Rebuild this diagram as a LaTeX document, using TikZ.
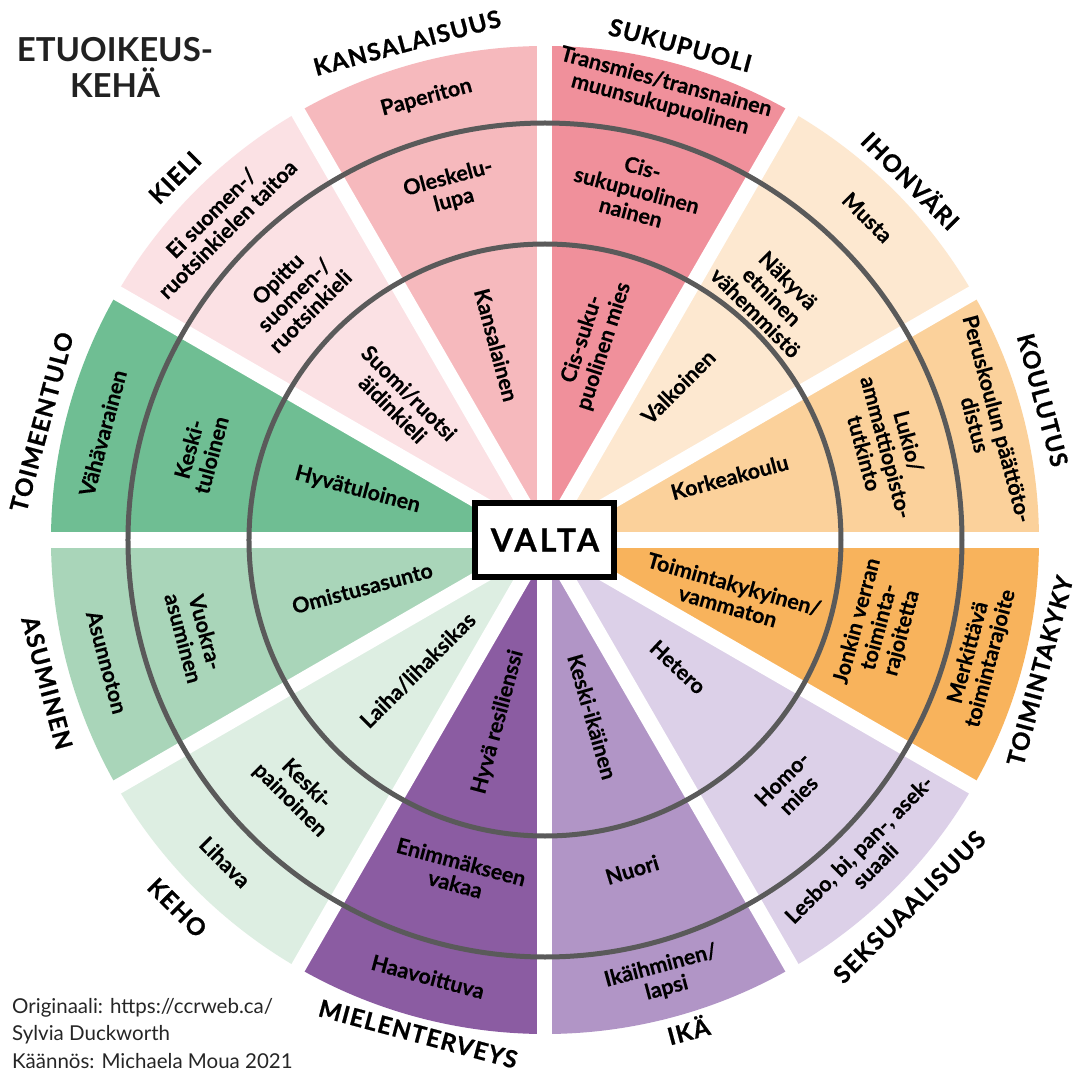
\documentclass[tikz,border=0pt]{standalone}
\usepackage{fontspec}
\setmainfont{Lato}
\newfontfamily\labfont{Lato}[UprightFeatures={FakeBold=0.3}, BoldFeatures={FakeBold=0.3}]
\newfontfamily\ttlfont{Lato}[UprightFeatures={FakeBold=0.8}, BoldFeatures={FakeBold=0.8}, LetterSpace=5]
\newfontfamily\valfont{Lato}[UprightFeatures={FakeBold=0.8}, BoldFeatures={FakeBold=0.8}, LetterSpace=10]
\definecolor{ckan}{HTML}{F6B9BD}
\definecolor{csuk}{HTML}{F0909B}
\definecolor{ciho}{HTML}{FDE8D0}
\definecolor{ckou}{HTML}{FBD19B}
\definecolor{ctoi}{HTML}{F8B35C}
\definecolor{csek}{HTML}{DCD0E8}
\definecolor{cika}{HTML}{B195C6}
\definecolor{cmie}{HTML}{8B5CA2}
\definecolor{ckeh}{HTML}{DDEEE2}
\definecolor{casu}{HTML}{A9D5B9}
\definecolor{ctul}{HTML}{6FBE93}
\definecolor{ckie}{HTML}{FBE1E4}
\definecolor{ring}{HTML}{5A5A5A}
\tikzset{
  lab/.style={font=\labfont\bfseries\fontsize{21.5}{23}\selectfont, align=center, inner sep=0pt, text=black},
  ttl/.style={font=\ttlfont\bfseries\fontsize{24}{26}\selectfont, inner sep=0pt, text=black},
  wedge/.style={fill=#1},
  gapline/.style={draw=white, line width=15pt},
  ringline/.style={draw=ring, line width=5pt},
}
\begin{document}
\begin{tikzpicture}[x=1pt,y=1pt]
\useasboundingbox[fill=white] (-545,-534) rectangle (535,540);
% wedges
\foreach \a/\c in {90/ckan,60/csuk,30/ciho,0/ckou,-30/ctoi,-60/csek,-90/cika,-120/cmie,-150/ckeh,-180/casu,150/ctul,120/ckie}{
  \fill[wedge=\c] (0,0) -- (\a:494pt) arc[start angle=\a, delta angle=30, radius=494pt] -- cycle;
}
% gaps
\foreach \a in {0,30,...,330}{
  \draw[gapline] (0,0) -- (\a:505pt);
}
% rings
\draw[ringline] (0,0) circle[radius=417pt];
\draw[ringline] (0,0) circle[radius=296pt];

% KANSALAISUUS
\node[lab, rotate=15] (kan3) at (105:458pt) {Paperiton};
\node[lab, rotate=15] (kan2) at (105:363pt) {Oleskelu-\\lupa};
\node[lab, rotate=-75] (kan1) at (104:201pt) {Kansalainen};
\node[ttl, rotate=15] (kanT) at (105.5:516pt) {KANSALAISUUS};
% SUKUPUOLI
\node[lab, rotate=-15] (suk3) at (75.2:462pt) {Transmies/transnainen\\muunsukupuolinen};
\node[lab, rotate=-15] (suk2) at (75.3:362pt) {Cis-\\sukupuolinen\\nainen};
\node[lab, rotate=72] (suk1) at (76.3:203pt) {Cis-suku-\\puolinen mies};
\node[ttl, rotate=-15] (sukT) at (74.7:513pt) {SUKUPUOLI};
% IHONVARI
\node[lab, rotate=-45] (iho3) at (45:456pt) {Musta};
\node[lab, rotate=-45] (iho2) at (47:333pt) {Näkyvä\\etninen\\vähemmistö};
\node[lab, rotate=45] (iho1) at (49:203pt) {Valkoinen};
\node[ttl, rotate=-45] (ihoT) at (44.5:514pt) {IHONVÄRI};
% KOULUTUS
\node[lab, rotate=-75] (kou3) at (15:457pt) {Peruskoulun päättöto-\\distus};
\node[lab, rotate=-75] (kou2) at (15.2:354pt) {Lukio/\\ammattiopisto-\\tutkinto};
\node[lab, rotate=15] (kou1) at (18.8:195pt) {Korkeakoulu};
\node[ttl, rotate=-75] (kouT) at (15.7:517pt) {KOULUTUS};
% TOIMINTAKYKY
\node[lab, rotate=-16] (toi1) at (-16.5:194pt) {Toimintakykyinen/\\vammaton};
\node[lab, rotate=75] (toi2) at (-14.6:346pt) {Jonkin verran\\toiminta-\\rajoitetta};
\node[lab, rotate=75] (toi3) at (-14.9:450pt) {Merkittävä\\toimintarajoite};
\node[ttl, rotate=75] (toiT) at (-14.8:512pt) {TOIMINTAKYKY};
% SEKSUAALISUUS
\node[lab, rotate=-43] (sek1) at (-43.7:184pt) {Hetero};
\node[lab, rotate=45] (sek2) at (-45.2:348pt) {Homo-\\mies};
\node[lab, rotate=45] (sek3) at (-44.6:452pt) {Lesbo, bi, pan-, asek-\\suaali};
\node[ttl, rotate=45] (sekT) at (-45.2:517pt) {SEKSUAALISUUS};
% IKA
\node[lab, rotate=-74] (ika1) at (-75:183pt) {Keski-ikäinen};
\node[lab, rotate=17] (ika2) at (-75.2:341pt) {Nuori};
\node[lab, rotate=15] (ika3) at (-74.8:453pt) {Ikäihminen/\\lapsi};
\node[ttl, rotate=15] (ikaT) at (-73.7:510pt) {IKÄ};
% MIELENTERVEYS
\node[lab, rotate=75] (mie1) at (-104.5:188pt) {Hyvä resilienssi};
\node[lab, rotate=-15] (mie2) at (-104.6:344pt) {Enimmäkseen\\vakaa};
\node[lab, rotate=-15] (mie3) at (-105:452pt) {Haavoittuva};
\node[ttl, rotate=-15] (mieT) at (-104.4:510pt) {MIELENTERVEYS};
% KEHO
\node[lab, rotate=45] (keh1) at (-134.3:182pt) {Laiha/lihaksikas};
\node[lab, rotate=-45] (keh2) at (-134.4:353pt) {Keski-\\painoinen};
\node[lab, rotate=-45] (keh3) at (-134.8:454pt) {Lihava};
\node[ttl, rotate=-45] (kehT) at (-135:520pt) {KEHO};
% ASUMINEN
\node[lab, rotate=15] (asu1) at (-165.3:189pt) {Omistusasunto};
\node[lab, rotate=-75] (asu2) at (-164.8:363pt) {Vuokra-\\asuminen};
\node[lab, rotate=-75] (asu3) at (-164.4:455pt) {Asunnoton};
\node[ttl, rotate=-75] (asuT) at (-164:518pt) {ASUMINEN};
% TOIMEENTULO
\node[lab, rotate=-15] (tul1) at (165:194pt) {Hyvätuloinen};
\node[lab, rotate=75] (tul2) at (165.7:356pt) {Keski-\\tuloinen};
\node[lab, rotate=75] (tul3) at (166.4:455pt) {Vähävarainen};
\node[ttl, rotate=75] (tulT) at (166.8:517pt) {TOIMEENTULO};
% KIELI
\node[lab, rotate=-45] (kie1) at (136:200pt) {Suomi/ruotsi\\äidinkieli};
\node[lab, rotate=45] (kie2) at (135.7:351pt) {Opittu\\suomen-/\\ruotsinkieli};
\node[lab, rotate=45] (kie3) at (135.6:456pt) {Ei suomen-/\\ruotsinkielen taitoa};
\node[ttl, rotate=45] (kieT) at (135.6:518pt) {KIELI};

% centre
\node[draw=black, line width=6pt, fill=white, minimum width=139pt, minimum height=74pt, inner sep=0pt,
      font=\valfont\bfseries\fontsize{32}{34}\selectfont] (valta) at (0,0) {VALTA};

% title
\node[anchor=base, inner sep=0pt, text=black!87, font=\bfseries\fontsize{33}{36}\selectfont] (tit1) at (-430,478) {ETUOIKEUS-};
\node[anchor=base, inner sep=0pt, text=black!87, font=\bfseries\fontsize{33}{36}\selectfont] (tit2) at (-430,442) {KEHÄ};

% credits
\node[anchor=base west, inner sep=0pt, text=black!85, font=\fontsize{20.5}{22}\selectfont] (cr1) at (-533,-473) {Originaali: https://ccrweb.ca/};
\node[anchor=base west, inner sep=0pt, text=black!85, font=\fontsize{20.5}{22}\selectfont] (cr2) at (-533,-500) {Sylvia Duckworth};
\node[anchor=base west, inner sep=0pt, text=black!85, font=\fontsize{20.5}{22}\selectfont] (cr3) at (-533,-528) {Käännös: Michaela Moua 2021};
\end{tikzpicture}
\end{document}
